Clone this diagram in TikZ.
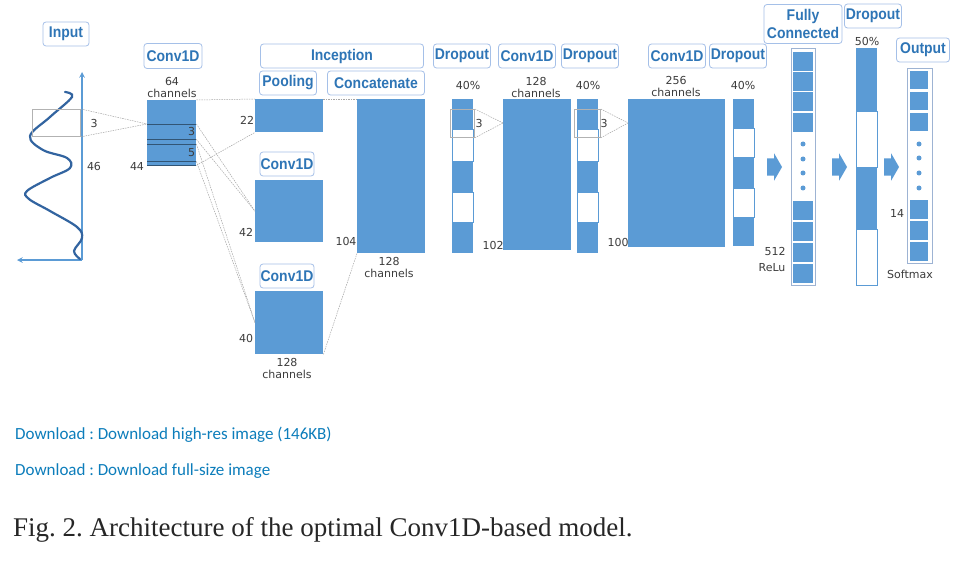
\documentclass[tikz,border=0pt]{standalone}
\usepackage{fontspec}
\usepackage{graphicx}
\setmainfont{Liberation Sans}
\newfontfamily\numfont{DejaVu Sans}
\newfontfamily\capfont{Liberation Serif}
\newfontfamily\linkfont{Carlito}
\usetikzlibrary{arrows,shapes,shapes.arrows,calc,positioning}
\definecolor{blk}{RGB}{91,155,213}
\definecolor{hdrtxt}{RGB}{46,117,182}
\definecolor{hdrline}{RGB}{165,192,232}
\definecolor{wave}{RGB}{50,100,160}
\definecolor{lnk}{RGB}{12,125,187}
\definecolor{numtxt}{RGB}{60,60,60}
\newcommand{\hdrtext}[1]{\scalebox{0.9}[1]{#1}}
\frenchspacing
\tikzset{
hdr/.style={draw=hdrline,line width=0.8pt,rounded corners=3pt,fill=white,text=hdrtxt,
  font=\fontsize{15.5}{18}\selectfont\bfseries,inner sep=0pt,minimum height=24},
blk/.style={fill=blk,draw=none,inner sep=0pt,anchor=north west},
gap/.style={fill=white,draw=blk,line width=0.6pt,inner sep=0pt,anchor=north west},
sub/.style={draw=none,inner sep=0pt,anchor=north west},
subln/.style={draw=blk!55!black,line width=0.6pt},
frame/.style={draw=hdrline!80!gray,line width=0.8pt,inner sep=0pt,anchor=north west},
win/.style={draw=gray!60,line width=0.8pt,inner sep=0pt,anchor=north west},
num/.style={text=numtxt,font=\numfont\fontsize{11}{12}\selectfont,inner sep=0pt,align=center},
conn/.style={draw=gray!70,line width=0.5pt,dash pattern=on 1.5pt off 1pt},
axis/.style={draw=blk,line width=1.5pt},
dot/.style={circle,fill=blk,inner sep=0pt,minimum size=5},
bigarrow/.style={single arrow,fill=blk,draw=none,inner xsep=0pt,inner ysep=8.5pt,
  minimum height=15,single arrow head extend=5,single arrow tip angle=120}
}
\begin{document}
\begin{tikzpicture}[x=1pt,y=-1pt]
\useasboundingbox (0,0) rectangle (979,564);
\fill[white] (0,0) rectangle (979,564);

\coordinate (org) at (82,260);
\coordinate (yend) at (82,72);
\coordinate (xend) at (17,260);
\draw[axis,-stealth] (org) -- (yend);
\draw[axis,-stealth] (org) -- (xend);
\draw[wave,line width=2.2pt,line cap=round] plot[smooth,tension=0.6] coordinates {(65,92) (72,97) (50,117) (30,136) (43,150) (67,158) (70,168) (50,178) (27,191) (29,199) (50,211) (77,227) (82,238) (74,251) (80,259)};
\node[win,minimum width=48,minimum height=27] (w0) at (32,109) {};

\node[hdr,minimum width=46] (hIn) at (66,34) {\hdrtext{Input}};
\node[hdr,minimum width=58,minimum height=25] (hC1) at (173,56) {\hdrtext{Conv1D}};
\node[hdr,minimum width=163] (hInc) at (342,56) {\hdrtext{Inception}};
\node[hdr,minimum width=57] (hPool) at (288,83) {\hdrtext{Pooling}};
\node[hdr,minimum width=97] (hCat) at (376,83) {\hdrtext{Concatenate}};
\node[hdr,minimum width=54] (hC2) at (287,164) {\hdrtext{Conv1D}};
\node[hdr,minimum width=54] (hC3) at (287,276) {\hdrtext{Conv1D}};
\node[hdr,minimum width=57] (hD1) at (462,56) {\hdrtext{Dropout}};
\node[hdr,minimum width=57] (hC4) at (527,56) {\hdrtext{Conv1D}};
\node[hdr,minimum width=57] (hD2) at (590,56) {\hdrtext{Dropout}};
\node[hdr,minimum width=57] (hC5) at (677,56) {\hdrtext{Conv1D}};
\node[hdr,minimum width=57] (hD3) at (738,56) {\hdrtext{Dropout}};
\node[hdr,minimum width=78,minimum height=39,align=center] (hFC) at (803,24) {\hdrtext{Fully}\\\hdrtext{Connected}};
\node[hdr,minimum width=57] (hD4) at (873,16) {\hdrtext{Dropout}};
\node[hdr,minimum width=53] (hOut) at (923,50) {\hdrtext{Output}};

\node[blk,minimum width=49,minimum height=65] (cv1) at (147,100) {};
\node[sub,minimum width=49,minimum height=15] (k3) at (147,124) {};
\node[sub,minimum width=49,minimum height=17] (k5) at (147,144) {};
\draw[subln] (k3.north west) -- (k3.north east);
\draw[subln] (k3.south west) -- (k3.south east);
\draw[subln] (k5.north west) -- (k5.north east);
\draw[subln] (k5.south west) -- (k5.south east);
\draw[subln] (cv1.south west) -- (cv1.south east);
\node[blk,minimum width=68,minimum height=33] (pool) at (255,99) {};
\node[blk,minimum width=68,minimum height=62] (cm) at (255,180) {};
\node[blk,minimum width=68,minimum height=63] (cb) at (255,291) {};
\node[blk,minimum width=68,minimum height=154] (cat) at (357,99) {};

\draw[conn] (w0.north east) -- (k3.north west);
\draw[conn] (w0.south east) -- (k3.north west);
\draw[conn] (cv1.north east) -- (pool.north west);
\draw[conn] (pool.north east) -- (cat.north west);
\draw[conn] (cv1.south east) -- (pool.south west);
\draw[conn] (k3.north east) -- (cm.west);
\draw[conn] (k3.south east) -- (cm.west);
\draw[conn] (k5.north east) -- (cb.west);
\draw[conn] (k5.south east) -- (cb.west);
\draw[conn] (cb.south east) -- (cat.south west);

\node[num] (n3a) at (94,123) {3};
\node[num] (n46) at (94,166) {46};
\node[num] (n44) at (137,166) {44};
\node[num] (n64) at (172,87) {64\\channels};
\node[num,anchor=east] (n3b) at ([xshift=-1]k3.east) {3};
\node[num,anchor=east] (n5) at ([xshift=-1]k5.east) {5};
\node[num] (n22) at (247,120) {22};
\node[num] (n42) at (246,232) {42};
\node[num] (n40) at (246,338) {40};
\node[num] (n104) at (346,241) {104};
\node[num] (nCat) at (389,267) {128\\channels};
\node[num] (nCb) at (287,368) {128\\channels};

\node[blk,minimum width=21,minimum height=154] (d1) at (452,99) {};
\node[gap,minimum width=21,minimum height=32] (d1a) at (452,129) {};
\node[gap,minimum width=21,minimum height=30] (d1b) at (452,192) {};
\node[win,minimum width=24,minimum height=28] (w1) at (450,109) {};
\node[blk,minimum width=68,minimum height=151] (cv2) at (503,99) {};
\coordinate (cv2in) at ($(cv2.north west)+(0,24)$);
\draw[conn] (w1.north east) -- (cv2in);
\draw[conn] (w1.south east) -- (cv2in);
\node[num] (p1) at (468,85) {40\%};
\node[num] (n3c) at (479,123) {3};
\node[num] (nCv2) at (536,87) {128\\channels};
\node[num] (n102) at (493,245) {102};

\node[blk,minimum width=21,minimum height=154] (d2) at (577,99) {};
\node[gap,minimum width=21,minimum height=32] (d2a) at (577,129) {};
\node[gap,minimum width=21,minimum height=30] (d2b) at (577,192) {};
\node[win,minimum width=26,minimum height=28] (w2) at (574,109) {};
\node[blk,minimum width=97,minimum height=148] (cv3) at (628,99) {};
\coordinate (cv3in) at ($(cv3.north west)+(0,24)$);
\draw[conn] (w2.north east) -- (cv3in);
\draw[conn] (w2.south east) -- (cv3in);
\node[num] (p2) at (588,85) {40\%};
\node[num] (n3d) at (604,123) {3};
\node[num] (nCv3) at (676,86) {256\\channels};
\node[num] (n100) at (618,242) {100};

\node[blk,minimum width=21,minimum height=147] (d3) at (733,99) {};
\node[gap,minimum width=21,minimum height=29] (d3a) at (733,128) {};
\node[gap,minimum width=21,minimum height=29] (d3b) at (733,188) {};
\node[num] (p3) at (743,85) {40\%};

\node[bigarrow] (ar1) at (772,167) {};
\node[bigarrow] (ar2) at (837,167) {};
\node[bigarrow] (ar3) at (889,167) {};

\node[frame,minimum width=24,minimum height=237] (fc) at (791,48) {};
\node[blk,minimum width=20,minimum height=19] (fc1) at (793,52) {};
\node[blk,minimum width=20,minimum height=19] (fc2) at (793,72) {};
\node[blk,minimum width=20,minimum height=19] (fc3) at (793,92) {};
\node[blk,minimum width=20,minimum height=19] (fc4) at (793,113) {};
\node[dot] (fcd1) at (803,144) {};
\node[dot] (fcd2) at (803,159) {};
\node[dot] (fcd3) at (803,173) {};
\node[dot] (fcd4) at (803,188) {};
\node[blk,minimum width=20,minimum height=19] (fc5) at (793,201) {};
\node[blk,minimum width=20,minimum height=19] (fc6) at (793,222) {};
\node[blk,minimum width=20,minimum height=19] (fc7) at (793,243) {};
\node[blk,minimum width=20,minimum height=19] (fc8) at (793,264) {};
\node[num] (n512) at (775,251) {512};
\node[num] (nRelu) at (772,268) {ReLu};

\node[blk,minimum width=21,minimum height=237] (d4) at (856,48) {};
\node[gap,minimum width=21,minimum height=56] (d4a) at (856,111) {};
\node[gap,minimum width=21,minimum height=56] (d4b) at (856,229) {};
\node[num] (p4) at (867,41) {50\%};

\node[frame,minimum width=25,minimum height=195] (out) at (907,68) {};
\node[blk,minimum width=18,minimum height=18] (o1) at (910,71) {};
\node[blk,minimum width=18,minimum height=18] (o2) at (910,92) {};
\node[blk,minimum width=18,minimum height=18] (o3) at (910,113) {};
\node[dot] (od1) at (919,144) {};
\node[dot] (od2) at (919,158) {};
\node[dot] (od3) at (919,173) {};
\node[dot] (od4) at (919,188) {};
\node[blk,minimum width=18,minimum height=19] (o4) at (910,200) {};
\node[blk,minimum width=18,minimum height=19] (o5) at (910,221) {};
\node[blk,minimum width=18,minimum height=19] (o6) at (910,242) {};
\node[num] (n14) at (897,213) {14};
\node[num] (nSoft) at (910,274) {Softmax};

\node[anchor=west,inner sep=0pt,text=lnk,font=\linkfont\fontsize{17}{20}\selectfont] (dl1) at (15,435) {Download : Download high-res image (146KB)};
\node[anchor=west,inner sep=0pt,text=lnk,font=\linkfont\fontsize{17}{20}\selectfont] (dl2) at (15,471) {Download : Download full-size image};
\node[anchor=west,inner sep=0pt,text=black!85,font=\capfont\fontsize{27}{30}\selectfont] (cap) at (13,530) {Fig. 2. Architecture of the optimal Conv1D-based model.};
\end{tikzpicture}
\end{document}
